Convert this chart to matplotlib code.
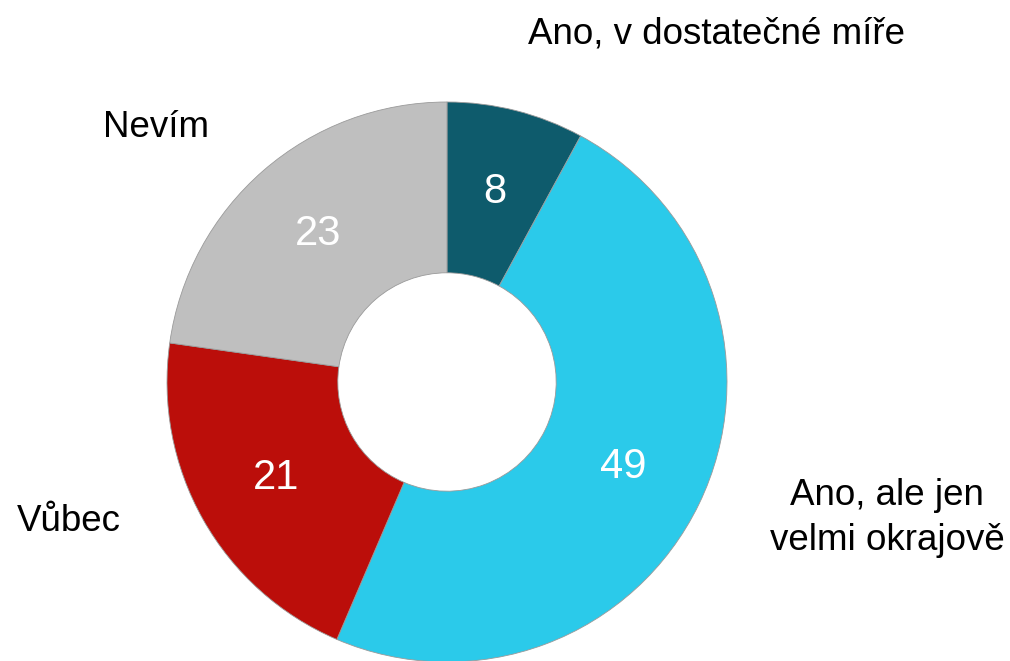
import numpy as np
import matplotlib.pyplot as plt

plt.rcParams['font.family'] = ['Liberation Sans', 'DejaVu Sans']

categories = ["Ano, v dostatečné míře", "Ano, ale jen\nvelmi okrajově", "Vůbec", "Nevím"]
values = [8, 49, 21, 23]
colors = ["#0e5b6c", "#2bcaea", "#bb0e0a", "#bfbfbf"]

total = sum(values)

fig = plt.figure(figsize=(10.1, 6.61), dpi=100)
ax = fig.add_axes([0, 0, 1, 1])

wedges, texts, autotexts = ax.pie(
    values, colors=colors, startangle=90, counterclock=False,
    center=(447, 279), radius=280, frame=True,
    autopct=lambda p: f"{round(p * total / 100)}", pctdistance=0.70,
    wedgeprops=dict(width=280 * 0.61, edgecolor="#9a9a9a", linewidth=0.6),
    textprops=dict(color="white", fontsize=30))
ax.set_xlim(0, 1010)
ax.set_ylim(0, 661)
ax.set_aspect('equal')
ax.axis('off')

# outer category labels (y measured from the bottom, baselines)
lab_fs = 26.5
ax.text(716, 618, categories[0], fontsize=lab_fs, ha='center', va='baseline')
line1, line2 = categories[1].split("\n")
ax.text(887, 156, line1, fontsize=lab_fs, ha='center', va='baseline')
ax.text(887, 111, line2, fontsize=lab_fs, ha='center', va='baseline')
ax.text(17, 130, categories[2], fontsize=lab_fs, ha='left', va='baseline')
ax.text(103, 524, categories[3], fontsize=lab_fs, ha='left', va='baseline')

fig.savefig("out.png", dpi=100)
